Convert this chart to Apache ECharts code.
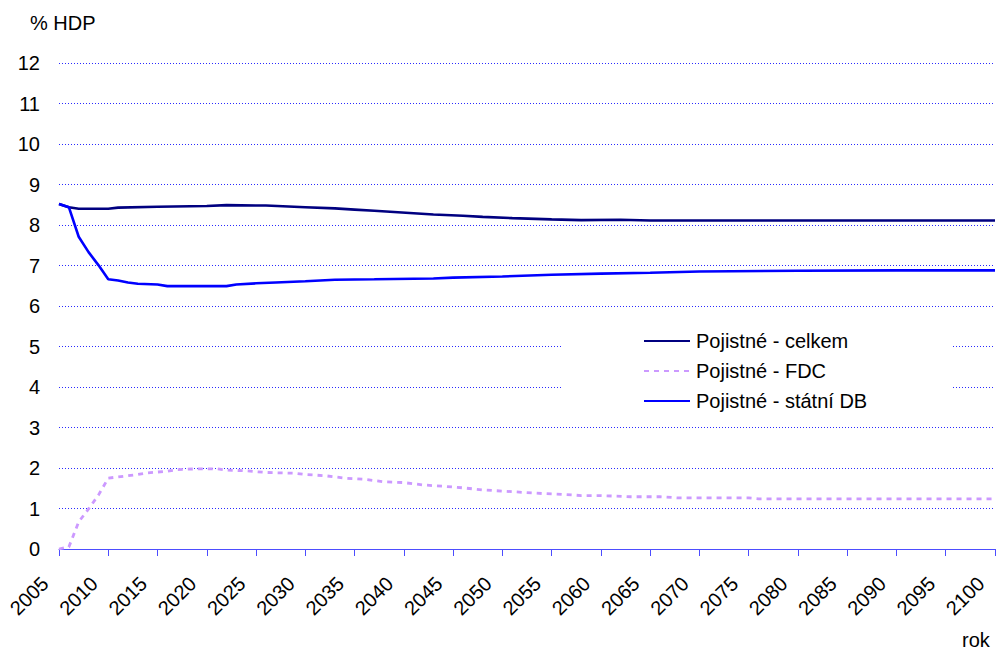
<!DOCTYPE html>
<html>
<head>
<meta charset="utf-8">
<script src="https://cdn.jsdelivr.net/npm/echarts@6/dist/echarts.min.js"></script>
<style>
html,body{margin:0;padding:0;background:#fff;}
#chart{width:999px;height:651px;}
</style>
</head>
<body>
<div id="chart"></div>
<script>
// ---- data ----
const seriesNames = ['Pojistné - celkem', 'Pojistné - FDC', 'Pojistné - státní DB'];

const celkemYears = [2005, 2006, 2007, 2010, 2011, 2015, 2020, 2022, 2026, 2030, 2033, 2035, 2037, 2039, 2041, 2043, 2046, 2048, 2051, 2055, 2058, 2062, 2065, 2100];
const celkemValues = [8.52, 8.44, 8.40, 8.40, 8.43, 8.45, 8.47, 8.49, 8.48, 8.44, 8.41, 8.38, 8.35, 8.32, 8.29, 8.26, 8.23, 8.20, 8.17, 8.14, 8.12, 8.13, 8.11, 8.11];

const fdcYears = [2005, 2006, 2007, 2008, 2009, 2010, 2011, 2012, 2013, 2014, 2016, 2017, 2019, 2021, 2022, 2024, 2026, 2029, 2030, 2032, 2034, 2036, 2038, 2040, 2042, 2044, 2046, 2048, 2050, 2052, 2054, 2056, 2058, 2060, 2063, 2066, 2068, 2075, 2076, 2100];
const fdcValues = [0.00, 0.05, 0.67, 0.99, 1.33, 1.75, 1.78, 1.81, 1.84, 1.88, 1.92, 1.96, 1.98, 1.98, 1.95, 1.93, 1.89, 1.87, 1.84, 1.81, 1.75, 1.72, 1.66, 1.64, 1.58, 1.55, 1.51, 1.46, 1.43, 1.40, 1.37, 1.35, 1.32, 1.32, 1.29, 1.29, 1.26, 1.26, 1.24, 1.24];

const statniYears = [2005, 2006, 2007, 2008, 2009, 2010, 2011, 2012, 2013, 2015, 2016, 2022, 2023, 2025, 2027, 2030, 2033, 2037, 2043, 2045, 2050, 2055, 2060, 2065, 2070, 2080, 2090, 2100];
const statniValues = [8.52, 8.44, 7.71, 7.33, 7.01, 6.66, 6.63, 6.58, 6.55, 6.53, 6.49, 6.49, 6.53, 6.56, 6.58, 6.61, 6.65, 6.66, 6.68, 6.70, 6.73, 6.77, 6.80, 6.82, 6.85, 6.87, 6.88, 6.88];

const yAxisTitle = '% HDP';
const xAxisTitle = 'rok';

function pairs(xs, ys) { return xs.map((x, i) => [x, ys[i]]); }

const FONT = '"Liberation Sans", Arial, sans-serif';
const FS = 20;
const chart = echarts.init(document.getElementById('chart'), null, { renderer: 'svg' });

chart.setOption({
  animation: false,
  backgroundColor: '#ffffff',
  textStyle: { fontFamily: FONT },
  grid: { left: 59, right: 4, top: 63, bottom: 102, containLabel: false },
  xAxis: {
    type: 'value', min: 2005, max: 2100, interval: 5,
    axisLine: { show: true, lineStyle: { color: '#4d4dff', width: 1 } },
    axisTick: { show: true, length: 7, lineStyle: { color: '#4d4dff' } },
    axisLabel: { rotate: 45, margin: 17, padding: [0, 20, 0, 0], fontSize: FS, color: '#000', fontFamily: FONT,
                 formatter: v => String(v) },
    splitLine: { show: false }
  },
  yAxis: {
    type: 'value', min: 0, max: 12, interval: 1,
    axisLine: { show: false }, axisTick: { show: false },
    axisLabel: { margin: 19, fontSize: FS, color: '#000', fontFamily: FONT },
    splitLine: { show: true, lineStyle: { color: '#2a2aff', width: 1, type: [1, 2] } }
  },
  legend: {
    orient: 'vertical', left: 643, top: 331,
    itemWidth: 46, itemHeight: 14, itemGap: 10, padding: 0,
    itemStyle: { opacity: 0 },
    textStyle: { fontSize: FS, color: '#000', fontFamily: FONT, padding: [0, 0, 0, 1] },
    data: seriesNames
  },
  graphic: [
    { type: 'rect', left: 563, top: 318, z: 1, shape: { width: 390, height: 100 }, style: { fill: '#ffffff' } },
    { type: 'text', left: 30, top: 13, style: { text: yAxisTitle, fontSize: FS, fill: '#000', fontFamily: FONT } },
    { type: 'text', left: 962, top: 630, style: { text: xAxisTitle, fontSize: FS, fill: '#000', fontFamily: FONT } }
  ],
  series: [
    { name: seriesNames[0], type: 'line', symbol: 'none', z: 3,
      lineStyle: { color: '#000080', width: 2.6 }, itemStyle: { color: '#000080' },
      data: pairs(celkemYears, celkemValues) },
    { name: seriesNames[1], type: 'line', symbol: 'none', z: 3,
      lineStyle: { color: '#cc99ff', width: 2.8, type: [5, 5] }, itemStyle: { color: '#cc99ff' },
      data: pairs(fdcYears, fdcValues) },
    { name: seriesNames[2], type: 'line', symbol: 'none', z: 3,
      lineStyle: { color: '#0000ff', width: 2.6 }, itemStyle: { color: '#0000ff' },
      data: pairs(statniYears, statniValues) }
  ]
});
</script>
</body>
</html>
